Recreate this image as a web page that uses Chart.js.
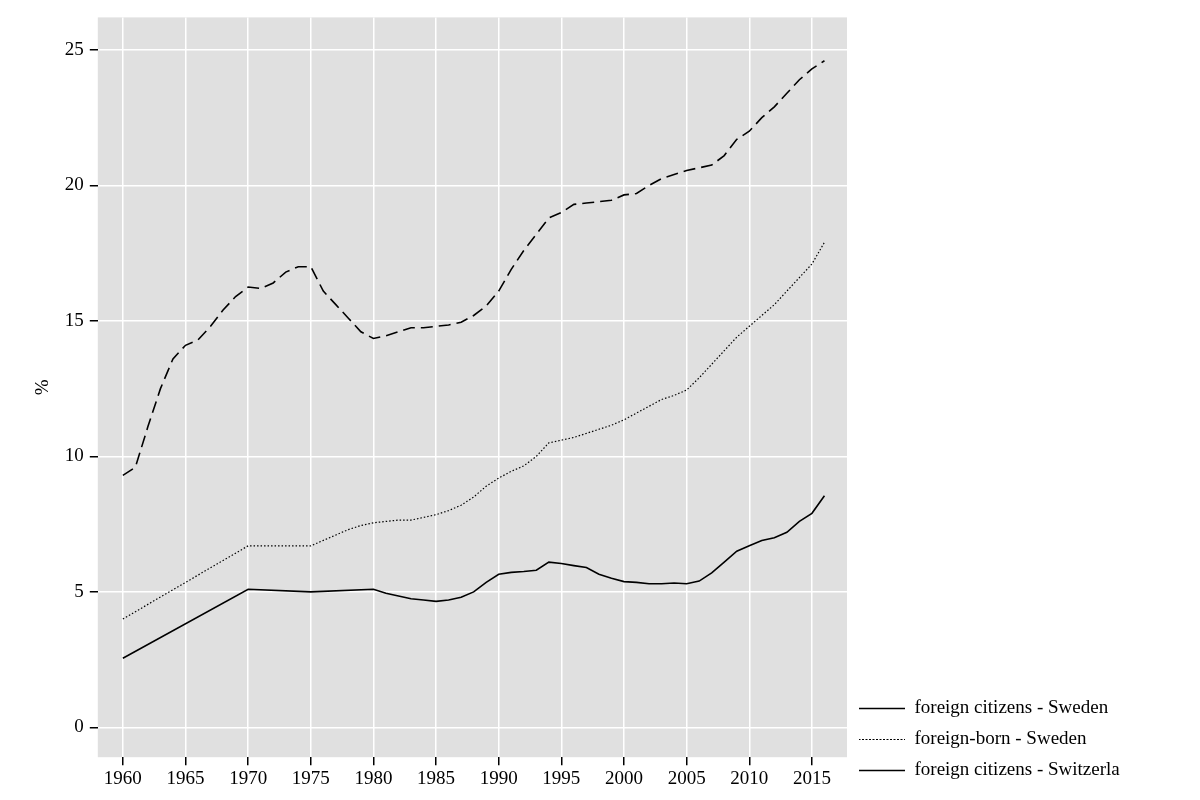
<!DOCTYPE html>
<html>
<head>
<meta charset="utf-8">
<script src="https://cdn.jsdelivr.net/npm/chart.js@4/dist/chart.umd.min.js"></script>
<style>
  body { margin: 0; background: #fff; }
  #wrap { width: 1200px; height: 800px; }
</style>
</head>
<body>
<div id="wrap"><canvas id="c" width="1200" height="800"></canvas></div>
<script>
// years and values
const sweCitYears = [1960, 1970, 1975, 1980, 1981, 1982, 1983, 1984, 1985, 1986, 1987, 1988, 1989, 1990, 1991, 1992, 1993, 1994, 1995, 1996, 1997, 1998, 1999, 2000, 2001, 2002, 2003, 2004, 2005, 2006, 2007, 2008, 2009, 2010, 2011, 2012, 2013, 2014, 2015, 2016];
const sweCit = [2.55, 5.1, 5.0, 5.1, 4.95, 4.85, 4.75, 4.7, 4.65, 4.7, 4.8, 5.0, 5.35, 5.65, 5.72, 5.75, 5.8, 6.1, 6.05, 5.97, 5.9, 5.65, 5.5, 5.38, 5.35, 5.3, 5.3, 5.33, 5.3, 5.4, 5.7, 6.1, 6.5, 6.7, 6.9, 7.0, 7.2, 7.6, 7.9, 8.55];

const sweBornYears = [1960, 1970, 1975, 1976, 1977, 1978, 1979, 1980, 1981, 1982, 1983, 1984, 1985, 1986, 1987, 1988, 1989, 1990, 1991, 1992, 1993, 1994, 1995, 1996, 1997, 1998, 1999, 2000, 2001, 2002, 2003, 2004, 2005, 2006, 2007, 2008, 2009, 2010, 2011, 2012, 2013, 2014, 2015, 2016];
const sweBorn = [4.0, 6.7, 6.7, 6.9, 7.1, 7.3, 7.45, 7.55, 7.6, 7.65, 7.65, 7.75, 7.85, 8.0, 8.2, 8.5, 8.9, 9.2, 9.45, 9.65, 10.0, 10.5, 10.6, 10.7, 10.85, 11.0, 11.15, 11.35, 11.6, 11.85, 12.1, 12.25, 12.45, 12.9, 13.4, 13.9, 14.4, 14.8, 15.2, 15.6, 16.1, 16.6, 17.1, 17.9];

const swiYears = [1960, 1961, 1962, 1963, 1964, 1965, 1966, 1967, 1968, 1969, 1970, 1971, 1972, 1973, 1974, 1975, 1976, 1977, 1978, 1979, 1980, 1981, 1982, 1983, 1984, 1985, 1986, 1987, 1988, 1989, 1990, 1991, 1992, 1993, 1994, 1995, 1996, 1997, 1998, 1999, 2000, 2001, 2002, 2003, 2004, 2005, 2006, 2007, 2008, 2009, 2010, 2011, 2012, 2013, 2014, 2015, 2016];
const swiCit = [9.3, 9.6, 11.1, 12.5, 13.6, 14.1, 14.3, 14.8, 15.4, 15.9, 16.25, 16.2, 16.4, 16.8, 17.0, 17.0, 16.1, 15.6, 15.1, 14.6, 14.35, 14.45, 14.6, 14.75, 14.75, 14.8, 14.85, 14.95, 15.2, 15.55, 16.1, 16.9, 17.6, 18.2, 18.8, 19.0, 19.3, 19.35, 19.4, 19.45, 19.65, 19.7, 20.0, 20.25, 20.4, 20.55, 20.65, 20.75, 21.1, 21.7, 22.0, 22.5, 22.9, 23.4, 23.9, 24.3, 24.6];

const xTicks = [1960, 1965, 1970, 1975, 1980, 1985, 1990, 1995, 2000, 2005, 2010, 2015];
const yTicks = [0, 5, 10, 15, 20, 25];

function pts(xs, ys) {
    return xs.map((x, i) => ({ x: x, y: ys[i] }));
}

// grey plot background
const plotBg = {
    id: 'plotBg',
    beforeDraw(chart) {
        const a = chart.chartArea;
        const ctx = chart.ctx;
        ctx.save();
        ctx.fillStyle = '#e0e0e0';
        ctx.fillRect(a.left, a.top, a.right - a.left, a.bottom - a.top);
        ctx.restore();
    }
};

const font = { family: 'Liberation Serif', size: 19 };

new Chart(document.getElementById('c'), {
    type: 'line',
    data: {
        datasets: [
            { label: 'foreign citizens - Sweden', data: pts(sweCitYears, sweCit), borderColor: '#000', borderWidth: 1.6, pointRadius: 0, fill: false },
            { label: 'foreign-born - Sweden', data: pts(sweBornYears, sweBorn), borderColor: '#000', borderWidth: 1.2, borderDash: [1.5, 2], pointRadius: 0, fill: false },
            { label: 'foreign citizens - Switzerland', data: pts(swiYears, swiCit), borderColor: '#000', borderWidth: 1.6, borderDash: [12, 6], pointRadius: 0, fill: false }
        ]
    },
    options: {
        responsive: false,
        animation: false,
        layout: { padding: { top: 14, right: 80, bottom: 8, left: 28 } },
        plugins: {
            tooltip: { enabled: false },
            legend: {
                position: 'right',
                align: 'end',
                labels: {
                    color: '#000',
                    font: font,
                    boxWidth: 46,
                    boxHeight: 0,
                    padding: 12
                }
            }
        },
        scales: {
            x: {
                type: 'linear',
                min: 1958,
                max: 2017.8,
                afterBuildTicks: axis => { axis.ticks = xTicks.map(v => ({ value: v })); },
                grid: { color: '#fff', lineWidth: 1.5, drawTicks: true, tickColor: '#000', tickLength: 8 },
                border: { display: false },
                ticks: { color: '#000', font: font, maxRotation: 0, autoSkip: false, padding: 2, callback: v => String(v) }
            },
            y: {
                min: -1.1,
                max: 26.2,
                afterBuildTicks: axis => { axis.ticks = yTicks.map(v => ({ value: v })); },
                grid: { color: '#fff', lineWidth: 1.5, drawTicks: true, tickColor: '#000', tickLength: 8 },
                border: { display: false },
                title: { display: true, text: '%', color: '#000', font: font },
                ticks: { color: '#000', font: font, padding: 6 }
            }
        }
    },
    plugins: [plotBg]
});
</script>
</body>
</html>
